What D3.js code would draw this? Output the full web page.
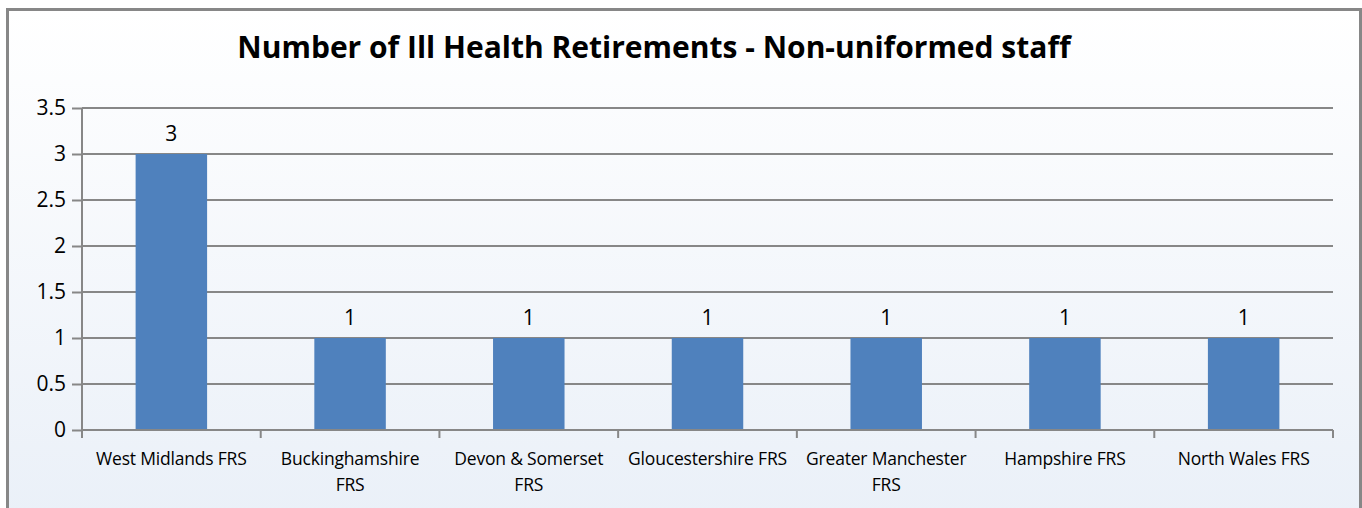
<!DOCTYPE html>
<html>
<head>
<meta charset="utf-8">
<script src="https://cdn.jsdelivr.net/npm/d3@7"></script>
<style>
  body { margin: 0; background: #fff; }
  text { font-family: "Open Sans", "Liberation Sans", sans-serif; fill: #000; }
</style>
</head>
<body>
<script>
var categories = ["West Midlands FRS", "Buckinghamshire FRS", "Devon & Somerset FRS",
  "Gloucestershire FRS", "Greater Manchester FRS", "Hampshire FRS", "North Wales FRS"];
var values = [3, 1, 1, 1, 1, 1, 1];
var yTicks = [0, 0.5, 1, 1.5, 2, 2.5, 3, 3.5];

var W = 1362, H = 508;
var margin = { top: 108, left: 82, right: 29, bottom: 78 };
var width = W - margin.left - margin.right,
  height = H - margin.top - margin.bottom;

var svg = d3.select("body").append("svg")
  .attr("width", W).attr("height", H);

var grad = svg.append("defs").append("linearGradient")
  .attr("id", "bg").attr("x1", 0).attr("y1", 0).attr("x2", 0).attr("y2", 1);
grad.append("stop").attr("offset", "0%").attr("stop-color", "#ffffff");
grad.append("stop").attr("offset", "100%").attr("stop-color", "#eaf0f8");

// chart frame
svg.append("rect")
  .attr("x", 7.5).attr("y", 9.5).attr("width", W - 9).attr("height", H)
  .attr("fill", "url(#bg)").attr("stroke", "#878787").attr("stroke-width", 3);

svg.append("text")
  .attr("x", 654).attr("y", 58)
  .attr("text-anchor", "middle")
  .style("font-size", "30px").style("font-weight", "bold")
  .text("Number of Ill Health Retirements - Non-uniformed staff");

var g = svg.append("g")
  .attr("transform", "translate(" + margin.left + "," + margin.top + ")");

var x = d3.scaleBand().domain(categories).range([0, width]).paddingInner(0.6).paddingOuter(0.3);
var y = d3.scaleLinear().domain([0, 3.5]).range([height, 0]);

// gridlines
g.selectAll(".grid").data(yTicks.slice(1)).enter().append("line")
  .attr("x1", 0).attr("x2", width)
  .attr("y1", function (d) { return y(d); }).attr("y2", function (d) { return y(d); })
  .attr("stroke", "#878787").attr("stroke-width", 2);

// y axis
var yAxis = g.append("g")
  .call(d3.axisLeft(y).tickValues(yTicks).tickSize(10).tickPadding(6).tickFormat(d3.format("")));
yAxis.selectAll("line").attr("stroke", "#878787").attr("stroke-width", 2);
yAxis.select(".domain").remove();
yAxis.selectAll("text").style("font-size", "21px").attr("dy", "0.3em");
g.append("line").attr("x1", 0).attr("x2", 0).attr("y1", 0).attr("y2", height + 8)
  .attr("stroke", "#878787").attr("stroke-width", 2);

// bars
g.selectAll(".bar").data(values).enter().append("rect")
  .attr("x", function (d, i) { return x(categories[i]); })
  .attr("y", function (d) { return y(d); })
  .attr("width", x.bandwidth())
  .attr("height", function (d) { return height - y(d); })
  .attr("fill", "#4f81bd");

// data labels
g.selectAll(".lbl").data(values).enter().append("text")
  .attr("x", function (d, i) { return x(categories[i]) + x.bandwidth() / 2; })
  .attr("y", function (d) { return y(d) - 13; })
  .attr("text-anchor", "middle")
  .style("font-size", "21px")
  .text(function (d) { return d; });

// x axis
g.append("line").attr("x1", 0).attr("x2", width).attr("y1", height).attr("y2", height)
  .attr("stroke", "#878787").attr("stroke-width", 2);
var step = width / categories.length;
g.selectAll(".xt").data(d3.range(categories.length + 1)).enter().append("line")
  .attr("x1", function (i) { return i * step; }).attr("x2", function (i) { return i * step; })
  .attr("y1", height).attr("y2", height + 8)
  .attr("stroke", "#878787").attr("stroke-width", 2);

// category labels, wrapped like the original
var lines = [["West Midlands FRS"], ["Buckinghamshire", "FRS"], ["Devon & Somerset", "FRS"],
  ["Gloucestershire FRS"], ["Greater Manchester", "FRS"], ["Hampshire FRS"], ["North Wales FRS"]];
categories.forEach(function (c, i) {
  var t = g.append("text")
    .attr("x", x(c) + x.bandwidth() / 2)
    .attr("y", height + 35)
    .attr("text-anchor", "middle")
    .style("font-size", "17.5px")
    .style("letter-spacing", "-0.2px");
  lines[i].forEach(function (l, k) {
    t.append("tspan").attr("x", x(c) + x.bandwidth() / 2).attr("dy", k ? 26 : 0).text(l);
  });
});
</script>
</body>
</html>
